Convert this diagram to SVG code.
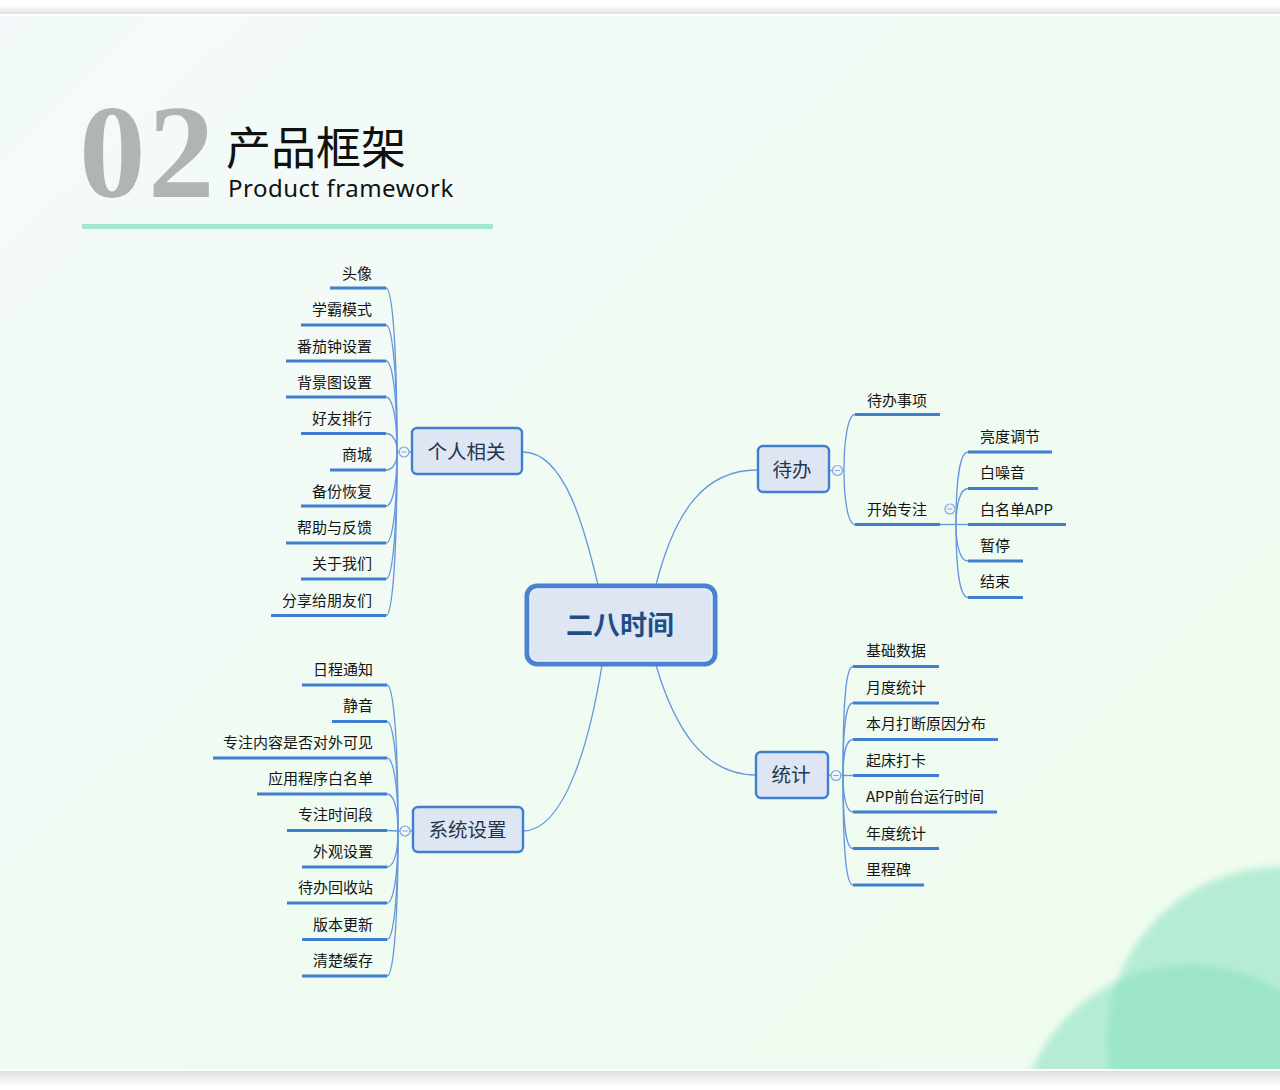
<svg xmlns="http://www.w3.org/2000/svg" width="1280" height="1090" viewBox="0 0 1280 1090">
<style>
text{font-family:"Noto Sans CJK SC","Liberation Sans",sans-serif}
.leaf{font-size:15px;fill:#141414}
.r{text-anchor:end}
.ul{stroke:#3f7fd0;stroke-width:2.8;fill:none}
.c{stroke:#6596dd;stroke-width:1.3;fill:none}
.box{fill:#dee6f3;stroke:#3f7fd0;stroke-width:2.4}
.lab{font-size:19.5px;fill:#26364a;text-anchor:middle}
.col{fill:#eef6f6;stroke:#7fa6e2;stroke-width:1.2}
.minus{stroke:#7fa6e2;stroke-width:1}
.blob{fill:#86e0bf;fill-opacity:.544}
</style>
<defs>
<linearGradient id="bg" gradientUnits="userSpaceOnUse" x1="0" y1="16" x2="1000" y2="1069">
<stop offset="0" stop-color="#f4fafb"/><stop offset="0.55" stop-color="#f0fbf2"/><stop offset="1" stop-color="#effcef"/>
</linearGradient>
<linearGradient id="st" x1="0" y1="0" x2="0" y2="1"><stop offset="0.4" stop-color="#fff"/><stop offset="1" stop-color="#e2e2e2"/></linearGradient>
<linearGradient id="sb" x1="0" y1="0" x2="0" y2="1"><stop offset="0" stop-color="#dedede"/><stop offset="1" stop-color="#fff"/></linearGradient>
<filter id="bl" x="-10%" y="-10%" width="120%" height="120%"><feGaussianBlur stdDeviation="3.5"/></filter>
<clipPath id="pg"><rect x="0" y="16" width="1280" height="1053"/></clipPath>
</defs>
<rect width="1280" height="1090" fill="#fff"/>
<rect y="0" width="1280" height="14" fill="url(#st)"/>
<rect y="1071" width="1280" height="15" fill="url(#sb)"/>
<rect y="16" width="1280" height="1053" fill="url(#bg)"/>
<g clip-path="url(#pg)">
<circle class="blob" cx="1280" cy="1040" r="173" filter="url(#bl)"/>
<circle class="blob" cx="1190" cy="1137" r="172" filter="url(#bl)"/>
</g>
<g id="title">
<text x="79" y="197" style="font-family:'Liberation Serif',serif;font-weight:700;font-size:133px;letter-spacing:2.5px;fill:#b0b5b4">02</text>
<text x="226" y="165" style="font-size:45px;fill:#111">产品框架</text>
<text x="228" y="197" style="font-family:'Noto Sans',sans-serif;font-size:24px;letter-spacing:.5px;fill:#111">Product framework</text>
<rect x="82" y="224" width="411" height="5" fill="#a3e6d2"/>
</g>
<g id="connectors">
<path class="c" d="M523 452C565 452 585 530 598 585"/>
<path class="c" d="M757 470C705 470 675 510 656 585"/>
<path class="c" d="M523 831C565 831 590 740 602 665"/>
<path class="c" d="M756 775C705 775 675 730 656 665"/>
<path class="c" d="M411 452H397"/>
<path class="c" d="M397 452C397 329 391 288 386 288"/>
<path class="c" d="M397 452C397 357 391 325 386 325"/>
<path class="c" d="M397 452C397 384 391 361 386 361"/>
<path class="c" d="M397 452C397 411 391 397 386 397"/>
<path class="c" d="M397 452C397 438 391 433.500 386 433.500"/>
<path class="c" d="M397 452C397 466 391 470 386 470"/>
<path class="c" d="M397 452C397 492 391 506 386 506"/>
<path class="c" d="M397 452C397 520 391 543 386 543"/>
<path class="c" d="M397 452C397 547 391 579 386 579"/>
<path class="c" d="M397 452C397 575 391 615.500 386 615.500"/>
<path class="c" d="M413 831H398"/>
<path class="c" d="M398 831C398 721 392 685 387 685"/>
<path class="c" d="M398 831C398 749 392 721.500 387 721.500"/>
<path class="c" d="M398 831C398 776 392 758 387 758"/>
<path class="c" d="M398 831C398 803 392 794 387 794"/>
<path class="c" d="M398 831L387 830.500"/>
<path class="c" d="M398 831C398 858 392 867 387 867"/>
<path class="c" d="M398 831C398 885 392 903 387 903"/>
<path class="c" d="M398 831C398 912 392 939.500 387 939.500"/>
<path class="c" d="M398 831C398 940 392 976 387 976"/>
<path class="c" d="M829 470.500H844"/>
<path class="c" d="M844 470.500C844 440 848 414.500 855 414.500"/>
<path class="c" d="M844 470.500C844 500 848 524.500 855 524.500"/>
<path class="c" d="M940 524.500H968"/>
<path class="c" d="M956 524.500C956 480 960 452 968 452"/>
<path class="c" d="M956 524.500C956 505 960 488.500 968 488.500"/>
<path class="c" d="M956 524.500C956 545 960 561 968 561"/>
<path class="c" d="M956 524.500C956 570 960 597.500 968 597.500"/>
<path class="c" d="M828 775.500H853"/>
<path class="c" d="M843 775.500C843 700 846 666.500 853 666.500"/>
<path class="c" d="M843 775.500C843 725 846 703 853 703"/>
<path class="c" d="M843 775.500C843 755 846 739.500 853 739.500"/>
<path class="c" d="M843 775.500C843 795 846 812 853 812"/>
<path class="c" d="M843 775.500C843 825 846 848.500 853 848.500"/>
<path class="c" d="M843 775.500C843 850 846 885 853 885"/>
</g>
<g id="root">
<rect x="527" y="586" width="188" height="78" rx="10" fill="#dee6f3" stroke="#4a82cf" stroke-width="5"/>
<rect x="530" y="589" width="182" height="72" rx="7" fill="none" stroke="#f3f6fb" stroke-width="1"/>
<text x="620" y="635" style="font-size:27px;font-weight:700;fill:#1f4e86;text-anchor:middle">二八时间</text>
</g>
<g id="n-personal">
<rect class="box" x="412" y="428" width="110" height="46" rx="5"/>
<text class="lab" x="466.500" y="459">个人相关</text>
<circle class="col" cx="404" cy="452" r="5"/><path class="minus" d="M401.500 452H406.500"/>
</g>
<g id="n-settings">
<rect class="box" x="413" y="807" width="110" height="45" rx="5"/>
<text class="lab" x="467.500" y="837">系统设置</text>
<circle class="col" cx="405" cy="831" r="5"/><path class="minus" d="M402.500 831H407.500"/>
</g>
<g id="n-todo">
<rect class="box" x="758" y="446" width="71" height="46" rx="5"/>
<text class="lab" x="792" y="477">待办</text>
<circle class="col" cx="837.500" cy="470.500" r="5"/><path class="minus" d="M835 470.500H840"/>
</g>
<g id="n-stats">
<rect class="box" x="756" y="752" width="72" height="46" rx="5"/>
<text class="lab" x="791" y="782">统计</text>
<circle class="col" cx="836" cy="775.500" r="5"/><path class="minus" d="M833.500 775.500H838.500"/>
</g>
<g id="n-focus">
<circle class="col" cx="950" cy="509" r="5"/><path class="minus" d="M947.500 509H952.500"/>
<path class="ul" d="M855 524.500H940"/><text class="leaf" x="867" y="515">开始专注</text>
</g>
<g id="leaves-personal">
<g id="p1"><path class="ul" d="M330 288H386"/><text class="leaf r" x="372" y="279">头像</text></g>
<g id="p2"><path class="ul" d="M301 325H386"/><text class="leaf r" x="372" y="315">学霸模式</text></g>
<g id="p3"><path class="ul" d="M286 361H386"/><text class="leaf r" x="372" y="351.500">番茄钟设置</text></g>
<g id="p4"><path class="ul" d="M286 397H386"/><text class="leaf r" x="372" y="388">背景图设置</text></g>
<g id="p5"><path class="ul" d="M301 433.500H386"/><text class="leaf r" x="372" y="424">好友排行</text></g>
<g id="p6"><path class="ul" d="M330 470H386"/><text class="leaf r" x="372" y="460">商城</text></g>
<g id="p7"><path class="ul" d="M301 506H386"/><text class="leaf r" x="372" y="497">备份恢复</text></g>
<g id="p8"><path class="ul" d="M286 543H386"/><text class="leaf r" x="372" y="533">帮助与反馈</text></g>
<g id="p9"><path class="ul" d="M301 579H386"/><text class="leaf r" x="372" y="569">关于我们</text></g>
<g id="p10"><path class="ul" d="M271 615.500H386"/><text class="leaf r" x="372" y="606">分享给朋友们</text></g>
</g>
<g id="leaves-settings">
<g id="s1"><path class="ul" d="M302 685H387"/><text class="leaf r" x="373" y="675">日程通知</text></g>
<g id="s2"><path class="ul" d="M332 721.500H387"/><text class="leaf r" x="373" y="711">静音</text></g>
<g id="s3"><path class="ul" d="M213 758H387"/><text class="leaf r" x="373" y="748">专注内容是否对外可见</text></g>
<g id="s4"><path class="ul" d="M257 794H387"/><text class="leaf r" x="373" y="784">应用程序白名单</text></g>
<g id="s5"><path class="ul" d="M287 830.500H387"/><text class="leaf r" x="373" y="820">专注时间段</text></g>
<g id="s6"><path class="ul" d="M302 867H387"/><text class="leaf r" x="373" y="857">外观设置</text></g>
<g id="s7"><path class="ul" d="M287 903H387"/><text class="leaf r" x="373" y="893">待办回收站</text></g>
<g id="s8"><path class="ul" d="M302 939.500H387"/><text class="leaf r" x="373" y="930">版本更新</text></g>
<g id="s9"><path class="ul" d="M302 976H387"/><text class="leaf r" x="373" y="966">清楚缓存</text></g>
</g>
<g id="leaves-todo">
<g id="t1"><path class="ul" d="M855 414.500H940"/><text class="leaf" x="867" y="406">待办事项</text></g>
<g id="f1"><path class="ul" d="M968 452H1052"/><text class="leaf" x="980" y="442">亮度调节</text></g>
<g id="f2"><path class="ul" d="M968 488.500H1038"/><text class="leaf" x="980" y="478">白噪音</text></g>
<g id="f3"><path class="ul" d="M968 524.500H1066"/><text class="leaf" x="980" y="515">白名单APP</text></g>
<g id="f4"><path class="ul" d="M968 561H1023"/><text class="leaf" x="980" y="551">暂停</text></g>
<g id="f5"><path class="ul" d="M968 597.500H1023"/><text class="leaf" x="980" y="587">结束</text></g>
</g>
<g id="leaves-stats">
<g id="d1"><path class="ul" d="M853 666.500H939"/><text class="leaf" x="866" y="656">基础数据</text></g>
<g id="d2"><path class="ul" d="M853 703H939"/><text class="leaf" x="866" y="693">月度统计</text></g>
<g id="d3"><path class="ul" d="M853 739.500H998"/><text class="leaf" x="866" y="729">本月打断原因分布</text></g>
<g id="d4"><path class="ul" d="M853 775.500H939"/><text class="leaf" x="866" y="766">起床打卡</text></g>
<g id="d5"><path class="ul" d="M853 812H997"/><text class="leaf" x="866" y="802">APP前台运行时间</text></g>
<g id="d6"><path class="ul" d="M853 848.500H939"/><text class="leaf" x="866" y="839">年度统计</text></g>
<g id="d7"><path class="ul" d="M853 885H924"/><text class="leaf" x="866" y="875">里程碑</text></g>
</g>
</svg>
